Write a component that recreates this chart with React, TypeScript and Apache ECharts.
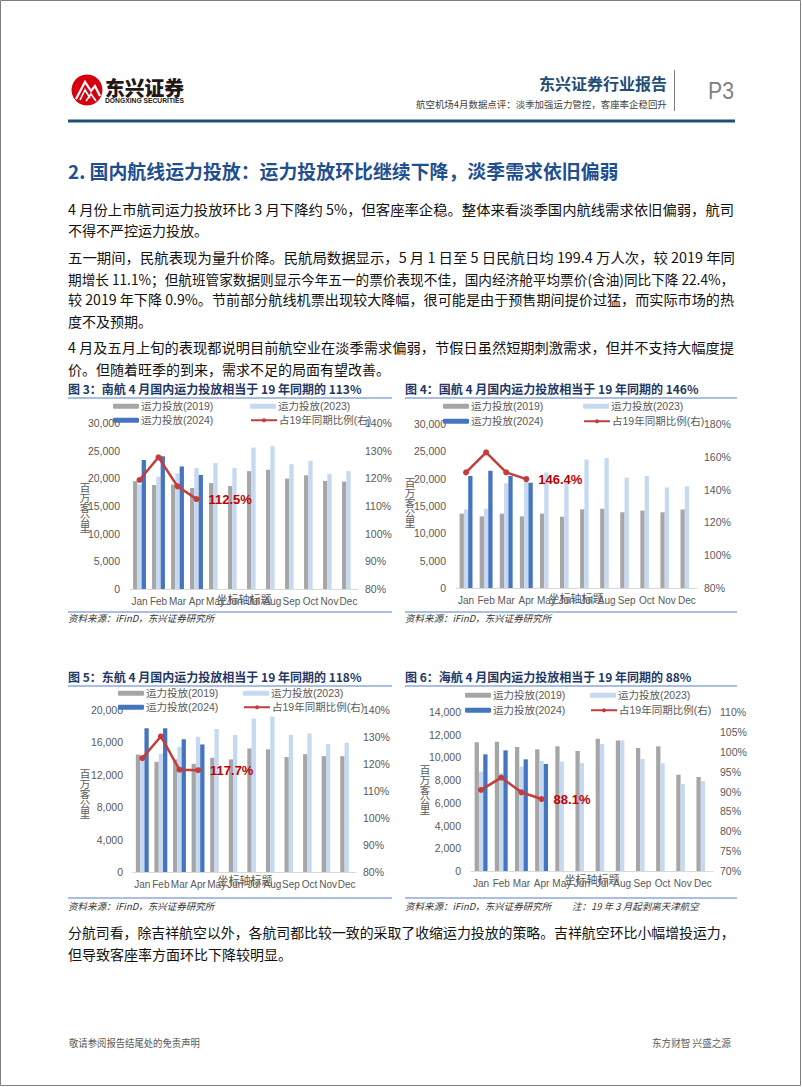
import React, { useEffect, useRef } from 'react';
import * as echarts from 'echarts';

const months = ['Jan', 'Feb', 'Mar', 'Apr', 'May', 'Jun', 'Jul', 'Aug', 'Sep', 'Oct', 'Nov', 'Dec'];

const S19 = '运力投放(2019)';
const S23 = '运力投放(2023)';
const S24 = '运力投放(2024)';
const SR = '占19年同期比例(右)';

// 图3 南航
const csa2019 = [19500, 18800, 18900, 18250, 19150, 18600, 21300, 21550, 19950, 20550, 19550, 19400];
const csa2023 = [18900, 20300, 20900, 21850, 22750, 21850, 25550, 25800, 22550, 23200, 20800, 21300];
const csa2024 = [23300, 24000, 22150, 20600];
const csaRatio = [119.4, 127.6, 117.1, 112.5];

// 图4 国航
const ca2019 = [13600, 13100, 13600, 13100, 13600, 13050, 14400, 14500, 13850, 14150, 13850, 14350];
const ca2023 = [14350, 14500, 19150, 20500, 21150, 19500, 23500, 23800, 20200, 20500, 18400, 18600];
const ca2024 = [20500, 21450, 20500, 19250];
const caRatio = [150.5, 162.7, 150.5, 146.4];

// 图5 东航
const cea2019 = [14500, 13600, 13900, 13350, 14100, 13900, 15250, 15150, 14200, 14550, 14300, 14300];
const cea2023 = [13950, 14600, 15450, 16700, 17650, 16900, 18950, 19200, 16900, 17100, 15800, 15950];
const cea2024 = [17750, 17750, 16400, 15750];
const ceaRatio = [122.2, 130.2, 117.9, 117.7];

// 图6 海航
const hna2019 = [11330, 11390, 10920, 10710, 10980, 10570, 11650, 11500, 10830, 10980, 8480, 8280];
const hna2023 = [8750, 8600, 9190, 9690, 9630, 9510, 11180, 11500, 9860, 9480, 7660, 7920];
const hna2024 = [10270, 10620, 9830, 9420];
const hnaRatio = [90.4, 93.5, 89.8, 88.1];

const chartData = [
  { d19: csa2019, d23: csa2023, d24: csa2024, ratio: csaRatio },
  { d19: ca2019, d23: ca2023, d24: ca2024, ratio: caRatio },
  { d19: cea2019, d23: cea2023, d24: cea2024, ratio: ceaRatio },
  { d19: hna2019, d23: hna2023, d24: hna2024, ratio: hnaRatio },
];

const scales = [
  { lmax: 30000, lint: 5000, rmin: 80, rmax: 140, rint: 10 },
  { lmax: 30000, lint: 5000, rmin: 80, rmax: 180, rint: 20 },
  { lmax: 20000, lint: 4000, rmin: 80, rmax: 140, rint: 10 },
  { lmax: 14000, lint: 2000, rmin: 70, rmax: 110, rint: 5 },
];

const layouts = [
  { grid: { left: 130, top: 423, width: 228, height: 166 }, lx: [113, 250], ly: [408, 422], yName: [85, 507], axisTitle: [244, 599] },
  { grid: { left: 456, top: 424, width: 241, height: 164 }, lx: [443, 583], ly: [408, 423], yName: [410, 502], axisTitle: [576, 598] },
  { grid: { left: 133, top: 710, width: 223, height: 162 }, lx: [118, 243], ly: [695, 709], yName: [85, 793], axisTitle: [245, 880] },
  { grid: { left: 471, top: 712, width: 242, height: 159 }, lx: [465, 590], ly: [697, 712], yName: [425, 789], axisTitle: [592, 879] },
];

const figTitles = [
  '图 3：南航 4 月国内运力投放相当于 19 年同期的 113%',
  '图 4：国航 4 月国内运力投放相当于 19 年同期的 146%',
  '图 5：东航 4 月国内运力投放相当于 19 年同期的 118%',
  '图 6：海航 4 月国内运力投放相当于 19 年同期的 88%',
];

const bodyLines: [string, number, boolean][] = [
  ['4 月份上市航司运力投放环比 3 月下降约 5%，但客座率企稳。整体来看淡季国内航线需求依旧偏弱，航司', 209, true],
  ['不得不严控运力投放。', 230, false],
  ['五一期间，民航表现为量升价降。民航局数据显示，5 月 1 日至 5 日民航日均 199.4 万人次，较 2019 年同', 257.5, true],
  ['期增长 11.1%；但航班管家数据则显示今年五一的票价表现不佳，国内经济舱平均票价(含油)同比下降 22.4%，', 278.5, true],
  ['较 2019 年下降 0.9%。节前部分航线机票出现较大降幅，很可能是由于预售期间提价过猛，而实际市场的热', 299.5, true],
  ['度不及预期。', 320.5, false],
  ['4 月及五月上旬的表现都说明目前航空业在淡季需求偏弱，节假日虽然短期刺激需求，但并不支持大幅度提', 347, true],
  ['价。但随着旺季的到来，需求不足的局面有望改善。', 369, false],
  ['分航司看，除吉祥航空以外，各航司都比较一致的采取了收缩运力投放的策略。吉祥航空环比小幅增投运力，', 932, true],
  ['但导致客座率方面环比下降较明显。', 954, false],
];

const CJK = '"Noto Sans CJK SC", "Liberation Sans", sans-serif';
const LAT = '"Liberation Sans", Arial, "Noto Sans CJK SC", sans-serif';

const C_GRAY = '#a6a6a6';
const C_LIGHT = '#c6d9f0';
const C_BLUE = '#4675c0';
const C_RED = '#c43c3c';
const C_AXIS = '#595959';

let measureCtx: CanvasRenderingContext2D | null = null;
function measure(text: string, size: number, weight: string, family: string) {
  if (!measureCtx) measureCtx = document.createElement('canvas').getContext('2d');
  if (!measureCtx) return text.length * size;
  measureCtx.font = `${weight} ${size}px ${family}`;
  return measureCtx.measureText(text).width;
}

function fitText(text: string, x: number, y: number, size: number, weight: string, family: string, fill: string, width?: number, extra: any = {}) {
  let scaleX = 1;
  if (width) {
    const w = measure(text, size, weight, family);
    if (w > 0) scaleX = width / w;
  }
  return {
    type: 'text',
    x,
    y,
    scaleX,
    style: { text, fontSize: size, fontWeight: weight, fontFamily: family, fill, verticalAlign: 'middle', ...extra },
  };
}

export default function App() {
  const ref = useRef<HTMLDivElement>(null);

  useEffect(() => {
    if (!ref.current) return;
    const chart = echarts.init(ref.current, undefined, { renderer: 'svg' });

    const grids: any[] = [];
    const xAxes: any[] = [];
    const yAxes: any[] = [];
    const series: any[] = [];
    const legends: any[] = [];
    const graphics: any[] = [];

    layouts.forEach((lay, i) => {
      const sc = scales[i];
      const d = chartData[i];
      grids.push({ ...lay.grid, containLabel: false });
      xAxes.push({
        type: 'category',
        gridIndex: i,
        data: months,
        axisTick: { show: false },
        axisLine: { lineStyle: { color: '#d9d9d9', width: 1 } },
        axisLabel: { interval: 0, fontSize: 10, color: C_AXIS, fontFamily: LAT, margin: 7 },
      });
      yAxes.push({
        type: 'value',
        gridIndex: i,
        position: 'left',
        min: 0,
        max: sc.lmax,
        interval: sc.lint,
        splitLine: { show: false },
        axisLine: { show: false },
        axisTick: { show: false },
        axisLabel: {
          fontSize: 10.5,
          color: C_AXIS,
          fontFamily: LAT,
          margin: 10,
          formatter: (v: number) => v.toLocaleString('en-US'),
        },
      });
      yAxes.push({
        type: 'value',
        gridIndex: i,
        position: 'right',
        min: sc.rmin,
        max: sc.rmax,
        interval: sc.rint,
        splitLine: { show: false },
        axisLine: { show: false },
        axisTick: { show: false },
        axisLabel: { fontSize: 10.5, color: C_AXIS, fontFamily: LAT, margin: 7, formatter: '{value}%' },
      });
      const barCommon = { type: 'bar', xAxisIndex: i, yAxisIndex: i * 2, barWidth: 4.3, barGap: '0%' };
      series.push({ ...barCommon, name: S19, data: d.d19, itemStyle: { color: C_GRAY } });
      series.push({ ...barCommon, name: S23, data: d.d23, itemStyle: { color: C_LIGHT } });
      series.push({ ...barCommon, name: S24, data: d.d24, itemStyle: { color: C_BLUE } });
      const last = d.ratio.length - 1;
      series.push({
        type: 'line',
        name: SR,
        xAxisIndex: i,
        yAxisIndex: i * 2 + 1,
        symbol: 'circle',
        symbolSize: 6,
        lineStyle: { color: C_RED, width: 2.5 },
        itemStyle: { color: C_RED },
        z: 5,
        data: d.ratio.map((v, k) =>
          k === last
            ? {
                value: v,
                label: {
                  show: true,
                  position: 'right',
                  distance: 9,
                  formatter: `${v.toFixed(1)}%`,
                  color: '#c00000',
                  fontWeight: 'bold',
                  fontSize: 13,
                  fontFamily: LAT,
                },
              }
            : v
        ),
      });

      const legItems = [
        [S19, lay.lx[0], lay.ly[0]],
        [S23, lay.lx[1], lay.ly[0]],
        [S24, lay.lx[0], lay.ly[1]],
        [SR, lay.lx[1], lay.ly[1]],
      ];
      legItems.forEach(([name, x, y]) => {
        legends.push({
          data: [name],
          left: x,
          top: (y as number) - 7,
          padding: 0,
          itemGap: 0,
          itemWidth: 26,
          itemHeight: 5,
          selectedMode: false,
          textStyle: { fontSize: 10.5, color: C_AXIS, fontFamily: LAT, padding: [0, 0, 0, -3] },
        });
      });

      graphics.push({
        type: 'text',
        x: lay.yName[0],
        y: lay.yName[1],
        style: {
          text: '百\n万\n客\n公\n里',
          fontSize: 10.5,
          lineHeight: 10,
          fontFamily: CJK,
          fill: C_AXIS,
          align: 'center',
          verticalAlign: 'middle',
        },
      });
      graphics.push({
        type: 'text',
        x: lay.axisTitle[0],
        y: lay.axisTitle[1],
        z: -1,
        style: { text: '坐标轴标题', fontSize: 11, fontFamily: CJK, fill: C_AXIS, align: 'center', verticalAlign: 'middle' },
      });
    });

    // page frame
    graphics.push({
      type: 'rect',
      shape: { x: 0.5, y: 0.5, width: 800, height: 1085 },
      style: { fill: 'none', stroke: '#7f7f7f', lineWidth: 1 },
    });

    // logo
    graphics.push({ type: 'circle', shape: { cx: 87, cy: 90, r: 15.5 }, style: { fill: '#d7000f' } });
    graphics.push({
      type: 'polyline',
      shape: { points: [[76, 99], [85, 82], [91, 91], [95, 86], [100, 96]] },
      style: { stroke: '#fff', lineWidth: 2.2, fill: 'none' },
    });
    graphics.push({
      type: 'polyline',
      shape: { points: [[80, 100], [85, 90], [90, 98]] },
      style: { stroke: '#fff', lineWidth: 1.6, fill: 'none' },
    });
    graphics.push({
      type: 'polyline',
      shape: { points: [[86, 101], [91, 94], [96, 101]] },
      style: { stroke: '#fff', lineWidth: 1.6, fill: 'none' },
    });
    graphics.push(fitText('东兴证券', 105, 87, 20, '900', CJK, '#231815', 79));
    graphics.push(fitText('DONGXING SECURITIES', 105, 101, 6.5, 'bold', LAT, '#231815', 79));

    // header right
    graphics.push({
      type: 'text',
      x: 667,
      y: 83,
      style: { text: '东兴证券行业报告', fontSize: 16, fontWeight: 'bold', fontFamily: CJK, fill: '#1f4e79', align: 'right', verticalAlign: 'middle' },
    });
    {
      const sub = '航空机场4月数据点评：淡季加强运力管控，客座率企稳回升';
      const w = measure(sub, 9.5, 'normal', CJK);
      const s = 251 / w;
      graphics.push({
        type: 'text',
        x: 667 - 251,
        y: 104,
        scaleX: s,
        style: { text: sub, fontSize: 9.5, fontFamily: CJK, fill: '#404040', verticalAlign: 'middle' },
      });
    }
    graphics.push({ type: 'line', shape: { x1: 674.5, y1: 70, x2: 674.5, y2: 111 }, style: { stroke: '#7f7f7f', lineWidth: 1 } });
    graphics.push(fitText('P3', 708, 91, 24, 'normal', LAT, '#7f7f7f', 26));
    graphics.push({ type: 'rect', shape: { x: 68, y: 119.5, width: 667, height: 3 }, style: { fill: '#1f4e79' } });

    // section title
    graphics.push(fitText('2. 国内航线运力投放：运力投放环比继续下降，淡季需求依旧偏弱', 68, 170, 19, 'bold', CJK, '#1f4f8f', 551));

    // body
    bodyLines.forEach(([t, y, j]) => {
      graphics.push(fitText(t, 68, y, 14, 'normal', CJK, '#111', j ? 667 : undefined));
    });

    // figure titles, rules and sources
    const figPos = [
      [68, 388, 392, 612, 618],
      [405, 388, 737, 612, 618],
      [68, 676, 392, 898, 906],
      [405, 676, 737, 898, 906],
    ];
    figPos.forEach(([x, ty, xr, by, sy], i) => {
      graphics.push(fitText(figTitles[i], x, ty, 12, 'bold', CJK, '#1f3864'));
      graphics.push({ type: 'line', shape: { x1: x, y1: ty + 10, x2: xr, y2: ty + 10 }, style: { stroke: '#8ea9db', lineWidth: 1.5 } });
      graphics.push({ type: 'line', shape: { x1: x, y1: by, x2: xr, y2: by }, style: { stroke: '#8ea9db', lineWidth: 1.5 } });
      graphics.push(fitText('资料来源：iFinD，东兴证券研究所', x, sy, 9.5, 'normal', CJK, '#333', undefined, { fontStyle: 'italic' }));
    });
    graphics.push(fitText('注：19 年 3 月起剥离天津航空', 572, 906, 9.5, 'normal', CJK, '#333', undefined, { fontStyle: 'italic' }));

    // footer
    graphics.push(fitText('敬请参阅报告结尾处的免责声明', 69, 1043, 10, 'normal', CJK, '#595959', 131));
    graphics.push(fitText('东方财智 兴盛之源', 652, 1043, 10, 'normal', CJK, '#595959', 79));

    chart.setOption({
      animation: false,
      backgroundColor: '#ffffff',
      textStyle: { fontFamily: LAT },
      grid: grids,
      xAxis: xAxes,
      yAxis: yAxes,
      legend: legends,
      series,
      graphic: { elements: graphics },
    });

    return () => {
      chart.dispose();
    };
  }, []);

  return (
    <div
      ref={ref}
      style={{ position: 'fixed', left: 0, top: 0, width: 802, height: 1087, background: '#fff' }}
    />
  );
}
